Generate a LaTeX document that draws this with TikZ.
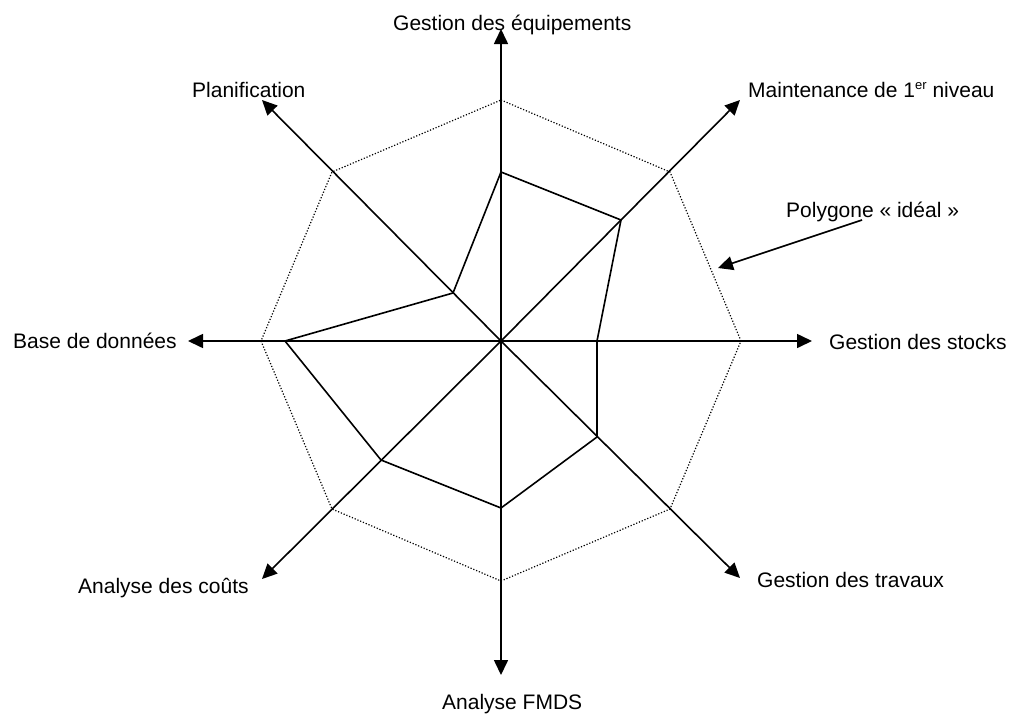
\documentclass[tikz,border=0pt]{standalone}
\usepackage{fontspec}
\setmainfont{Liberation Sans}
\usetikzlibrary{arrows.meta}
\begin{document}
\begin{tikzpicture}[x=1pt,y=-1pt,
  axis/.style={line width=1.6pt,-{Triangle[length=15pt,width=14pt]}},
  ideal/.style={line width=1.2pt,dash pattern=on 1.2pt off 1.8pt},
  datapoly/.style={line width=1.6pt,line join=miter},
  lbl/.style={inner sep=0pt,anchor=base west,font=\fontsize{21}{25}\selectfont}]
\useasboundingbox (0,0) rectangle (1010,713);
% centre and axis tips
\coordinate (O) at (501,341);
\coordinate (tT) at (501,29);
\coordinate (tUR) at (740,100);
\coordinate (tR) at (812,341);
\coordinate (tLR) at (740,578);
\coordinate (tB) at (501,675);
\coordinate (tLL) at (262,579);
\coordinate (tL) at (188,341);
\coordinate (tUL) at (262,100);
% ideal octagon
\coordinate (iT) at (501,100);
\coordinate (iUR) at (670,172);
\coordinate (iR) at (741,341);
\coordinate (iLR) at (670,509);
\coordinate (iB) at (501,581);
\coordinate (iLL) at (332,509);
\coordinate (iL) at (261,341);
\coordinate (iUL) at (332,172);
\draw[ideal] (iT) -- (iUR) -- (iR) -- (iLR) -- (iB) -- (iLL) -- (iL) -- (iUL) -- cycle;
% data polygon
\coordinate (dT) at (501,172);
\coordinate (dUR) at (621,220);
\coordinate (dR) at (597,341);
\coordinate (dLR) at (597,437);
\coordinate (dB) at (501,508);
\coordinate (dLL) at (381,460);
\coordinate (dL) at (285,341);
\coordinate (dUL) at (453,293);
\draw[datapoly] (dT) -- (dUR) -- (dR) -- (dLR) -- (dB) -- (dLL) -- (dL) -- (dUL) -- cycle;
% axes
\foreach \t in {tT,tUR,tR,tLR,tB,tLL,tL,tUL}
  \draw[axis] (O) -- (\t);
% labels
\node[lbl] (lT) at (393,30) {Gestion des équipements};
\node[lbl] (lUR) at (748,97) {Maintenance de 1\raisebox{7.5pt}{\fontsize{13}{13}\selectfont er} niveau};
\node[lbl] (lR) at (829,349) {Gestion des stocks};
\node[lbl] (lLR) at (757,587) {Gestion des travaux};
\node[lbl] (lB) at (442,709) {Analyse FMDS};
\node[lbl] (lLL) at (78,593) {Analyse des coûts};
\node[lbl] (lL) at (13,348) {Base de données};
\node[lbl] (lUL) at (192,97) {Planification};
\node[lbl] (lP) at (786,217) {Polygone « idéal »};
% pointer to the ideal polygon
\coordinate (pS) at (862,220);
\coordinate (pE) at (718,268);
\draw[axis] (pS) -- (pE);
\end{tikzpicture}
\end{document}
